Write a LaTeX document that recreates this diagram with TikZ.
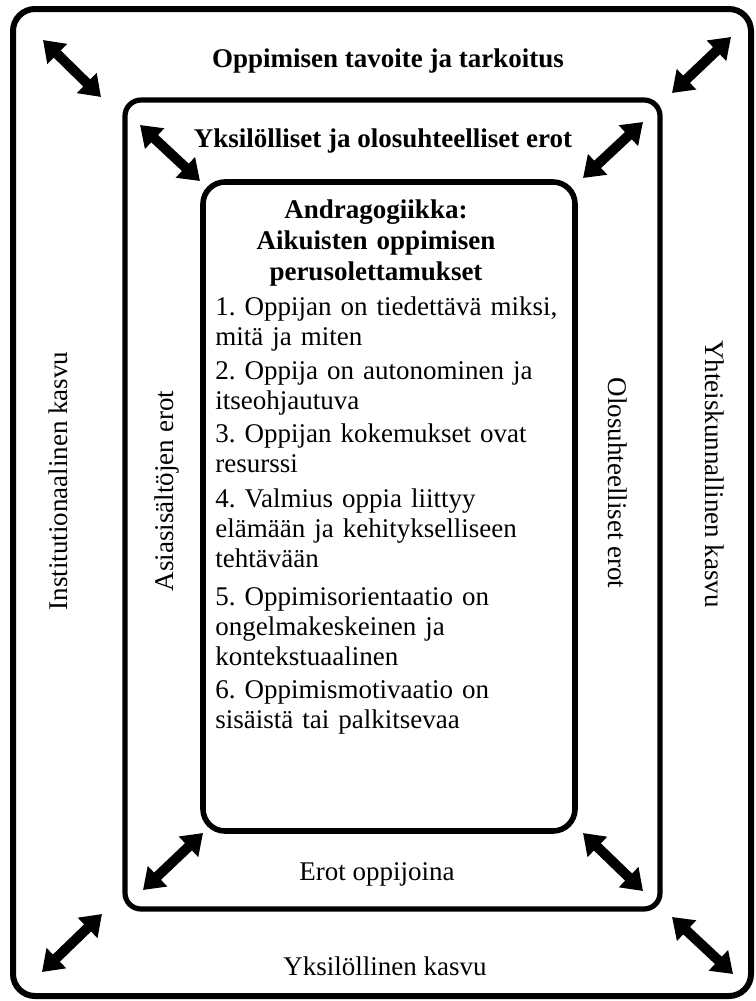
\documentclass[tikz,border=0pt]{standalone}
\usepackage{fontspec}
\setmainfont{Liberation Serif}
\usetikzlibrary{arrows.meta}
\frenchspacing
\newcommand{\twoway}[2]{\draw[twoway] (#1) -- (#2);}

\begin{document}
\begin{tikzpicture}[x=0.5pt,y=-0.5pt,
		twoway/.style={line width=5pt,{Triangle[length=10pt,width=13.5pt]}-{Triangle[length=10pt,width=13.5pt]}},
		plain/.style={anchor=base,inner sep=0pt,font=\fontsize{13.5}{15}\selectfont},
		heading/.style={plain,font=\fontsize{13.5}{15.5}\selectfont\bfseries},
		point/.style={anchor=base west,inner sep=0pt,text width=180pt,align=left,font=\fontsize{13.5}{15}\selectfont}]
	\useasboundingbox (0,0) rectangle (755,1001);
	% the three frames
	\draw[line width=3pt,rounded corners=11pt] (13,9) rectangle (751,996);
	\draw[line width=2.6pt,rounded corners=8pt] (125,100) rectangle (660,909);
	\draw[line width=2.8pt,rounded corners=11pt] (203,182) rectangle (575,831);
	% corner arrows
	\coordinate (ol1) at (43,40);   \coordinate (ol2) at (101,97);
	\coordinate (or1) at (672,93);  \coordinate (or2) at (731,37);
	\coordinate (ml1) at (140,125); \coordinate (ml2) at (200,181);
	\coordinate (mr1) at (583,178); \coordinate (mr2) at (643,122);
	\coordinate (bl1) at (143,890); \coordinate (bl2) at (203,833);
	\coordinate (bo1) at (42,972);  \coordinate (bo2) at (102,914);
	\coordinate (br1) at (583,833); \coordinate (br2) at (643,891);
	\coordinate (bq1) at (672,917); \coordinate (bq2) at (733,974);
	\twoway{ol1}{ol2}
	\twoway{or1}{or2}
	\twoway{ml1}{ml2}
	\twoway{mr1}{mr2}
	\twoway{bl1}{bl2}
	\twoway{bo1}{bo2}
	\twoway{br1}{br2}
	\twoway{bq1}{bq2}
	% labels of the frames
	\node[heading] (goal) at (388,67) {Oppimisen tavoite ja tarkoitus};
	\node[heading] (diff) at (383,147) {Yksilölliset ja olosuhteelliset erot};
	\node[plain] (learners) at (377,880) {Erot oppijoina};
	\node[plain] (growth) at (385,975) {Yksilöllinen kasvu};
	\node[plain,rotate=90] (inst) at (67,481) {Institutionaalinen kasvu};
	\node[plain,rotate=90] (content) at (173,491) {Asiasisältöjen erot};
	\node[plain,rotate=-90] (circ) at (608,483) {Olosuhteelliset erot};
	\node[plain,rotate=-90] (soc) at (705,474) {Yhteiskunnallinen kasvu};
	% andragogy
	\node[heading,text width=180pt,align=center] (andra) at (376,218) {Andragogiikka:\\ Aikuisten oppimisen\\ perusolettamukset};
	\node[point] (p1) at (215,315) {1. Oppijan on tiedettävä miksi,\\ mitä ja miten};
	\node[point] (p2) at (215,379) {2. Oppija on autonominen ja\\ itseohjautuva};
	\node[point] (p3) at (215,442) {3. Oppijan kokemukset ovat\\ resurssi};
	\node[point] (p4) at (215,507) {4. Valmius oppia liittyy\\ elämään ja kehitykselliseen\\ tehtävään};
	\node[point] (p5) at (215,605) {5. Oppimisorientaatio on\\ ongelmakeskeinen ja\\ kontekstuaalinen};
	\node[point] (p6) at (215,698) {6. Oppimismotivaatio on\\ sisäistä tai palkitsevaa};
\end{tikzpicture}
\end{document}
